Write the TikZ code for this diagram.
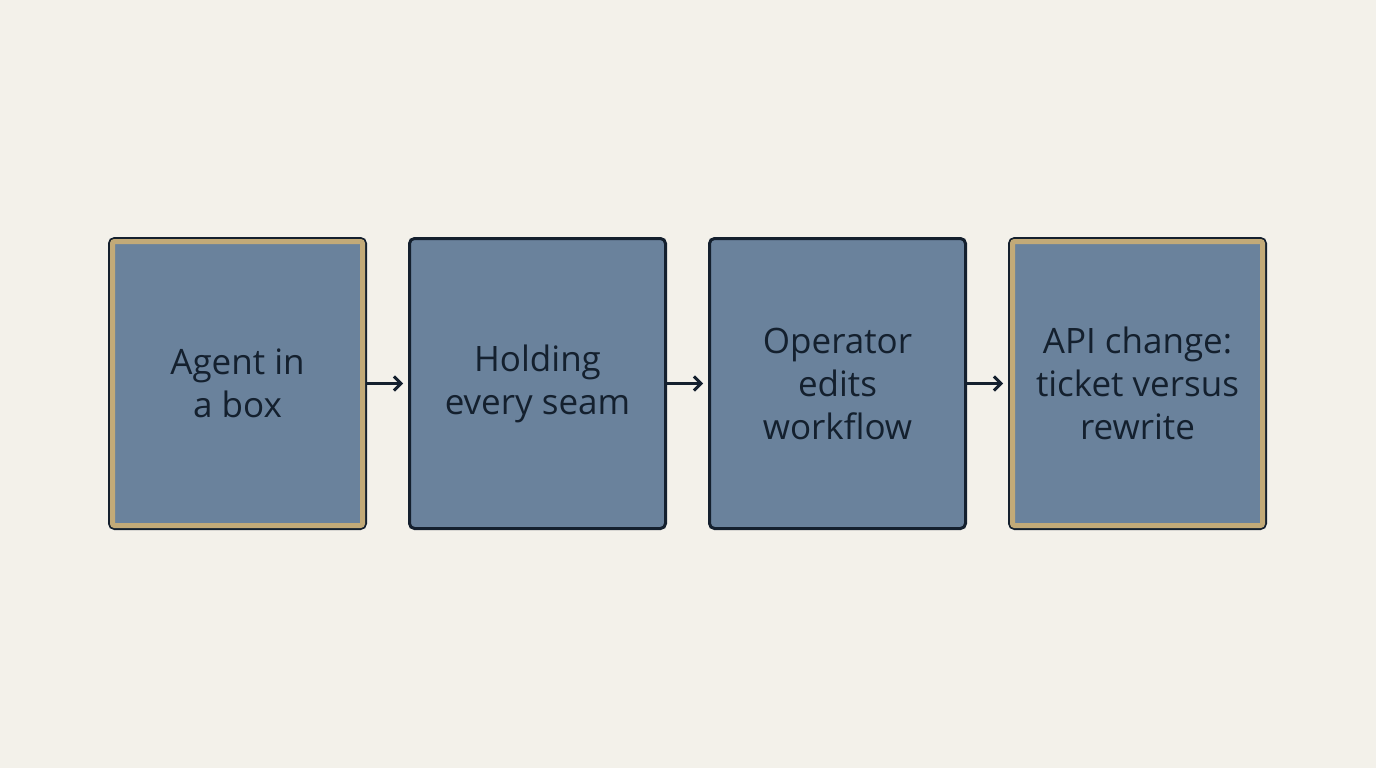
\documentclass[tikz,border=0pt]{standalone}
\usepackage{fontspec}
\setmainfont{Open Sans}
\usetikzlibrary{positioning,arrows.meta}
\definecolor{paper}{HTML}{F3F1EA}
\definecolor{slate}{HTML}{6A829C}
\definecolor{ink}{HTML}{14202E}
\definecolor{sand}{HTML}{C2AA78}
\tikzset{
  stage/.style={draw=ink, fill=slate, line width=3pt, rounded corners=5pt,
    minimum width=256pt, minimum height=290pt, align=center,
    font=\fontsize{35}{43}\selectfont, text=ink},
  flow/.style={draw=ink, line width=3pt, -{Straight Barb[length=7pt,width=14pt]}, shorten >=5pt},
  trim/.style={draw=sand, line width=5pt, rounded corners=2pt}
}
\begin{document}
\begin{tikzpicture}[x=1pt,y=1pt]
    \fill[paper] (0,0) rectangle (1376,-768);
    \useasboundingbox (0,0) rectangle (1376,-768);
    \node[stage] (agent) at (237.5,-383.5) {Agent in\\a box};
    \node[stage, right=41pt of agent] (seam) {Holding\\every seam};
    \node[stage, right=41pt of seam] (edits) {Operator\\edits\\workflow};
    \node[stage, right=41pt of edits] (api) {API change:\\ticket versus\\rewrite};
    % gold trim on the first and last box
    \draw[trim] ([shift={(4.5,-4.5)}]agent.north west) rectangle ([shift={(-4.5,4.5)}]agent.south east);
    \draw[trim] ([shift={(4.5,-4.5)}]api.north west) rectangle ([shift={(-4.5,4.5)}]api.south east);
    \draw[flow] (agent) -- (seam);
    \draw[flow] (seam) -- (edits);
    \draw[flow] (edits) -- (api);
\end{tikzpicture}
\end{document}
